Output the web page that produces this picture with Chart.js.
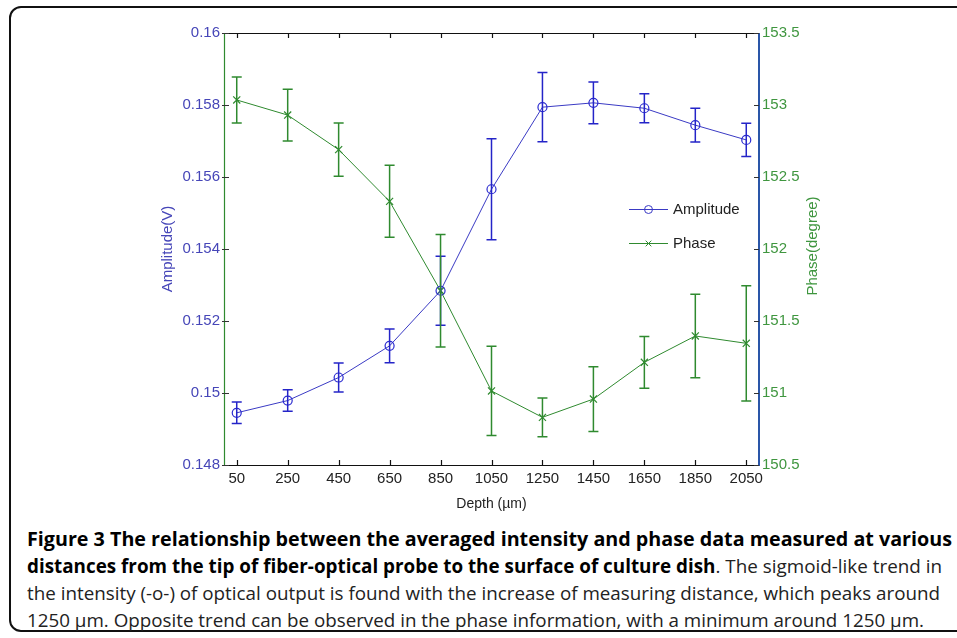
<!DOCTYPE html>
<html>
<head>
<meta charset="utf-8">
<script src="https://cdn.jsdelivr.net/npm/chart.js@4.4.1/dist/chart.umd.min.js"></script>
<style>
  html, body { margin: 0; padding: 0; background: #fff; }
  body { width: 957px; height: 638px; position: relative; overflow: hidden; }
  #frame {
    position: absolute; left: 9px; top: 6px; width: 980px; height: 626px;
    border: 2px solid #111; border-radius: 12px; box-sizing: border-box;
  }
  #chartBox { position: absolute; left: 0; top: 0; width: 957px; height: 520px; }
  #caption {
    position: absolute; left: 27px; top: 526px; width: 940px;
    font-family: "Open Sans", sans-serif; font-size: 19px; color: #222;
  }
  #caption .ln { display: block; white-space: nowrap; height: 27px; line-height: 27px; transform-origin: 0 50%; }
  #caption b { font-weight: 700; color: #000; }
</style>
</head>
<body>
<div id="frame"></div>
<div id="chartBox"><canvas id="c" width="957" height="520"></canvas></div>
<div id="caption">
  <span class="ln" data-w="925"><b>Figure 3 The relationship between the averaged intensity and phase data measured at various</b></span>
  <span class="ln" data-w="915"><b>distances from the tip of fiber-optical probe to the surface of culture dish</b>. The sigmoid-like trend in</span>
  <span class="ln" data-w="913">the intensity (-o-) of optical output is found with the increase of measuring distance, which peaks around</span>
  <span class="ln" data-w="897">1250 µm. Opposite trend can be observed in the phase information, with a minimum around 1250 µm.</span>
</div>
<script>
// data
const depths = [50, 250, 450, 650, 850, 1050, 1250, 1450, 1650, 1850, 2050]
const ampValues = [0.14945, 0.14979, 0.15043, 0.15131, 0.15284, 0.15566, 0.15794, 0.15806, 0.15791, 0.15744, 0.15703]
const ampErr = [0.0003, 0.0003, 0.0004, 0.00047, 0.00096, 0.0014, 0.00096, 0.00058, 0.0004, 0.00047, 0.00046]
const phaseValues = [153.035, 152.93, 152.69, 152.331, 151.71, 151.014, 150.831, 150.958, 151.213, 151.396, 151.345]
const phaseErr = [0.16, 0.18, 0.185, 0.25, 0.39, 0.31, 0.135, 0.225, 0.18, 0.29, 0.40]
const ampTicks = [0.148, 0.15, 0.152, 0.154, 0.156, 0.158, 0.16]
const phaseTicks = [150.5, 151, 151.5, 152, 152.5, 153, 153.5]

const BLUE = '#3a3ac4'
const BLUE_TXT = '#4646b8'
const GREEN = '#2f8a2f'
const GREEN_TXT = '#3f963f'
const FONT = 'Liberation Sans'

// fit caption lines to the widths in the figure
document.querySelectorAll('#caption .ln').forEach(el => {
  const r = document.createRange()
  r.selectNodeContents(el)
  const w = r.getBoundingClientRect().width
  const target = +el.dataset.w
  el.style.transform = 'scaleX(' + (target / w) + ')'
})

const errBars = {
  id: 'errBars',
  afterDatasetsDraw(chart) {
    const ctx = chart.ctx
    const sets = [
      { ax: 'yA', vals: ampValues, err: ampErr, color: '#2424c8' },
      { ax: 'yP', vals: phaseValues, err: phaseErr, color: GREEN }
    ]
    const xs = chart.scales.x
    ctx.save()
    ctx.lineWidth = 1.5
    sets.forEach(s => {
      const ys = chart.scales[s.ax]
      ctx.strokeStyle = s.color
      s.vals.forEach((v, i) => {
        const px = xs.getPixelForValue(depths[i])
        const t = ys.getPixelForValue(v + s.err[i])
        const b = ys.getPixelForValue(v - s.err[i])
        ctx.beginPath()
        ctx.moveTo(px, t); ctx.lineTo(px, b)
        ctx.moveTo(px - 5, t); ctx.lineTo(px + 5, t)
        ctx.moveTo(px - 5, b); ctx.lineTo(px + 5, b)
        ctx.stroke()
      })
    })
    ctx.restore()
  }
}

const frameAxes = {
  id: 'frameAxes',
  afterDraw(chart) {
    const ctx = chart.ctx
    const a = chart.chartArea
    const xs = chart.scales.x, ya = chart.scales.yA, yp = chart.scales.yP
    ctx.save()
    ctx.lineWidth = 1.2
    // top and bottom black
    ctx.strokeStyle = '#111'
    ctx.beginPath()
    ctx.moveTo(a.left, a.top + 0.5); ctx.lineTo(a.right, a.top + 0.5)
    ctx.moveTo(a.left, a.bottom + 0.5); ctx.lineTo(a.right, a.bottom + 0.5)
    depths.forEach(d => {
      const px = Math.round(xs.getPixelForValue(d)) + 0.5
      ctx.moveTo(px, a.top); ctx.lineTo(px, a.top + 5)
      ctx.moveTo(px, a.bottom); ctx.lineTo(px, a.bottom - 5)
    })
    ctx.stroke()
    // left axis green
    ctx.strokeStyle = GREEN
    ctx.beginPath()
    ctx.moveTo(a.left + 0.5, a.top); ctx.lineTo(a.left + 0.5, a.bottom)
    ctx.stroke()
    ctx.strokeStyle = '#333'
    ctx.beginPath()
    ampTicks.forEach(v => {
      const py = Math.round(ya.getPixelForValue(v)) + 0.5
      ctx.moveTo(a.left - 2, py); ctx.lineTo(a.left + 5, py)
    })
    ctx.stroke()
    // right axis blue
    ctx.strokeStyle = '#2a56a8'
    ctx.lineWidth = 2
    ctx.beginPath()
    ctx.moveTo(a.right, a.top); ctx.lineTo(a.right, a.bottom + 1)
    ctx.stroke()
    ctx.lineWidth = 1.2
    ctx.strokeStyle = '#333'
    ctx.beginPath()
    phaseTicks.forEach(v => {
      const py = Math.round(yp.getPixelForValue(v)) + 0.5
      ctx.moveTo(a.right - 5, py); ctx.lineTo(a.right, py)
    })
    ctx.stroke()

    // axis titles
    ctx.font = '14px "Liberation Sans", Arial, sans-serif'
    ctx.textAlign = 'center'
    ctx.textBaseline = 'middle'
    ctx.fillStyle = '#222'
    ctx.fillText('Depth (µm)', (a.left + a.right) / 2, 504)
    ctx.font = '15px "Liberation Sans", Arial, sans-serif'
    ctx.save()
    ctx.translate(168, 249)
    ctx.rotate(-Math.PI / 2)
    ctx.fillStyle = BLUE_TXT
    ctx.fillText('Amplitude(V)', 0, 0)
    ctx.restore()
    ctx.save()
    ctx.translate(813, 246)
    ctx.rotate(-Math.PI / 2)
    ctx.fillStyle = GREEN_TXT
    ctx.fillText('Phase(degree)', 0, 0)
    ctx.restore()

    // legend inside the plot
    const items = [
      { ds: chart.data.datasets[0], y: 209 },
      { ds: chart.data.datasets[1], y: 243 }
    ]
    items.forEach(it => {
      ctx.strokeStyle = it.ds.borderColor
      ctx.fillStyle = 'rgba(0,0,0,0)'
      ctx.lineWidth = 1
      ctx.beginPath()
      ctx.moveTo(629, it.y + 0.5); ctx.lineTo(668, it.y + 0.5)
      ctx.stroke()
      Chart.helpers.drawPoint(ctx, {
        pointStyle: it.ds.pointStyle, radius: 4, borderWidth: 1
      }, 648.5, it.y + 0.5)
      ctx.fillStyle = '#222'
      ctx.textAlign = 'left'
      ctx.fillText(it.ds.label, 673, it.y + 1)
    })
    ctx.restore()
  }
}

new Chart(document.getElementById('c'), {
  type: 'line',
  data: {
    datasets: [
      {
        label: 'Amplitude',
        data: depths.map((d, i) => ({ x: d, y: ampValues[i] })),
        yAxisID: 'yA',
        borderColor: BLUE,
        borderWidth: 1,
        backgroundColor: 'rgba(0,0,0,0)',
        pointStyle: 'circle',
        pointRadius: 4.5,
        pointBorderWidth: 1.2,
        pointBorderColor: '#2a2ad0',
        tension: 0
      },
      {
        label: 'Phase',
        data: depths.map((d, i) => ({ x: d, y: phaseValues[i] })),
        yAxisID: 'yP',
        borderColor: GREEN,
        borderWidth: 1,
        backgroundColor: 'rgba(0,0,0,0)',
        pointStyle: 'crossRot',
        pointRadius: 5,
        pointBorderWidth: 1.2,
        tension: 0
      }
    ]
  },
  options: {
    responsive: false,
    animation: false,
    layout: { padding: { left: 0, right: 0, top: 33, bottom: 0 } },
    plugins: { legend: { display: false }, tooltip: { enabled: false } },
    scales: {
      x: {
        type: 'linear', min: 0, max: 2100,
        afterBuildTicks: s => { s.ticks = depths.map(v => ({ value: v })) },
        afterFit: s => { s.height = 55 },
        grid: { display: false, drawTicks: false, tickLength: 0 },
        border: { display: false },
        ticks: {
          color: '#222', font: { family: FONT, size: 15 }, padding: 5, maxRotation: 0, autoSkip: false,
          callback: v => String(v)
        }
      },
      yA: {
        type: 'linear', position: 'left', min: 0.148, max: 0.16,
        afterBuildTicks: s => { s.ticks = ampTicks.map(v => ({ value: v })) },
        afterFit: s => { s.width = 224 },
        grid: { display: false, drawTicks: false, tickLength: 0 },
        border: { display: false },
        ticks: {
          color: BLUE_TXT, font: { family: FONT, size: 15 }, padding: 4,
          callback: v => String(+v.toFixed(3))
        }
      },
      yP: {
        type: 'linear', position: 'right', min: 150.5, max: 153.5,
        afterBuildTicks: s => { s.ticks = phaseTicks.map(v => ({ value: v })) },
        afterFit: s => { s.width = 198 },
        grid: { display: false, drawTicks: false, tickLength: 0 },
        border: { display: false },
        ticks: {
          color: GREEN_TXT, font: { family: FONT, size: 15 }, padding: 3,
          callback: v => String(+v.toFixed(1))
        }
      }
    }
  },
  plugins: [errBars, frameAxes]
})
</script>
</body>
</html>
